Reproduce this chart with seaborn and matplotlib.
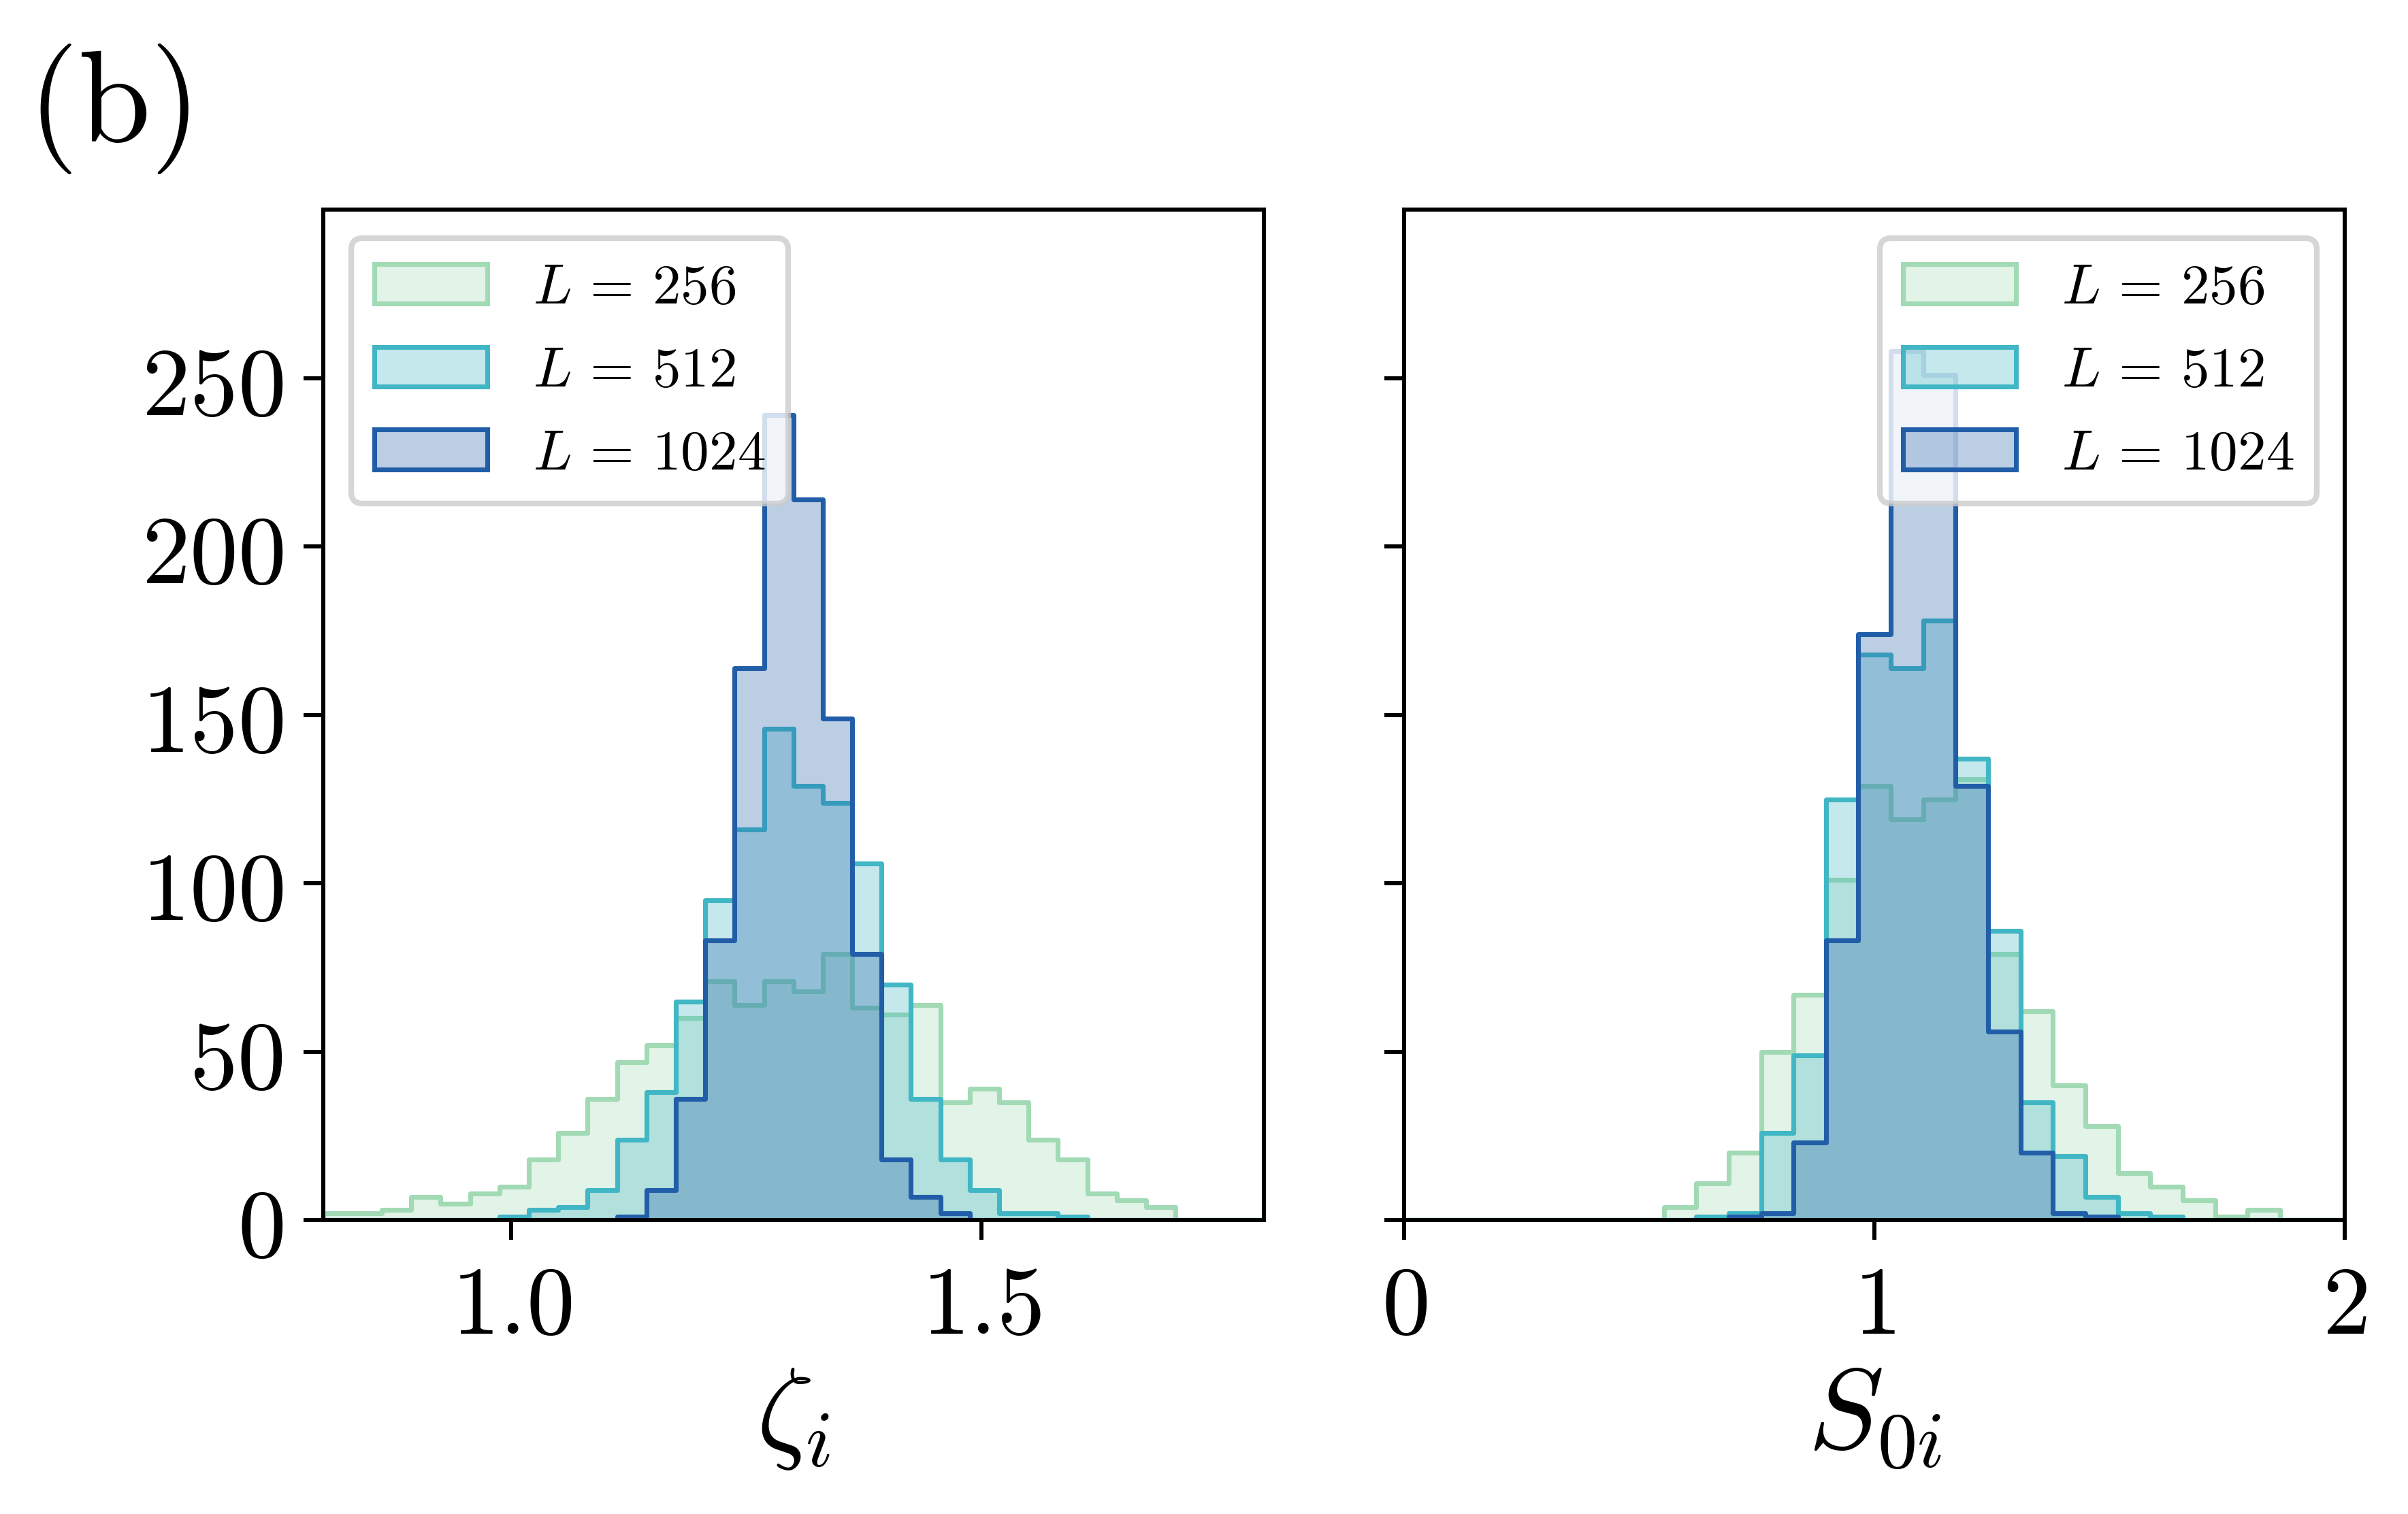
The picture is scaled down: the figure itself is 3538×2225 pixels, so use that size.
import numpy as np
import matplotlib
matplotlib.use("Agg")
import matplotlib.pyplot as plt
import seaborn as sns
from matplotlib.ticker import FuncFormatter

plt.rcParams['mathtext.fontset'] = 'cm'
plt.rcParams['font.family'] = ['DejaVu Serif']

sizes = [256, 512, 1024]
colors = ['#a1dab4', '#41b6c4', '#225ea8']

# zeta_i histograms: 32 bins of width 1/32 between 0.8 and 1.8
zeta_edges = np.linspace(0.8, 1.8, 33)
zeta_256 = [2, 2, 3, 7, 5, 8, 10, 18, 26, 36,
            47, 52, 60, 71, 64, 71, 68, 79, 63, 61,
            64, 35, 39, 35, 24, 18, 8, 6, 4, 0, 0, 0]
zeta_512 = [0, 0, 0, 0, 0, 0, 1, 3, 4, 9,
            24, 38, 65, 95, 116, 146, 129, 124, 106, 70,
            36, 18, 9, 2, 2, 1, 0, 0, 0, 0, 0, 0]
zeta_1024 = [0, 0, 0, 0, 0, 0, 0, 0, 0, 0,
             1, 9, 36, 83, 164, 239, 214, 149, 79, 18,
             7, 2, 0, 0, 0, 0, 0, 0, 0, 0, 0, 0]

# S_0i histograms: 29 bins between 0 and 2
s0_edges = np.linspace(0, 2, 30)
s0_256 = [0, 0, 0, 0, 0, 0, 0, 0,
          4, 11, 20, 50, 67, 101, 129, 119, 125, 131, 79, 62,
          40, 28, 14, 10, 6, 1, 3, 0, 0]
s0_512 = [0, 0, 0, 0, 0, 0, 0, 0, 0,
          1, 2, 26, 49, 125, 168, 164, 178, 137, 86, 35,
          19, 7, 2, 1, 0, 0, 0, 0, 0]
s0_1024 = [0, 0, 0, 0, 0, 0, 0, 0, 0, 0,
           1, 2, 23, 83, 174, 258, 251, 129, 56, 20,
           2, 1, 0, 0, 0, 0, 0, 0, 0]

zeta_xticks = [1.0, 1.5]
s0_xticks = [0, 1, 2]
yticks = [0, 50, 100, 150, 200, 250]

W, H, DPI = 3538, 2225, 600
fig, (ax1, ax2) = plt.subplots(1, 2, sharey=True, figsize=(W / DPI, H / DPI), dpi=DPI)
ax1.set_position([0.13417, 0.19402, 0.39062, 0.66742])
ax2.set_position([0.58318, 0.19402, 0.39062, 0.66742])


def draw_panel(ax, edges, series):
    centers = 0.5 * (edges[:-1] + edges[1:])
    for L, counts, c in zip(sizes, series, colors):
        sns.histplot(x=centers, weights=counts, bins=list(edges), element='step',
                     fill=True, color=c, alpha=0.3, linewidth=0.85,
                     label=rf'$L\,=\,{L}$', ax=ax)
    ax.set_ylabel('')
    for s in ax.spines.values():
        s.set_linewidth(0.72)
        s.set_color('black')
    ax.tick_params(length=3.5, width=0.72, labelsize=17, colors='black')


draw_panel(ax1, zeta_edges, [zeta_256, zeta_512, zeta_1024])
draw_panel(ax2, s0_edges, [s0_256, s0_512, s0_1024])

ax1.set_xlim(0.8, 1.8)
ax2.set_xlim(0, 2)
ax1.set_ylim(0, 300)
ax1.set_yticks(yticks)
ax1.set_xticks(zeta_xticks)
ax2.set_xticks(s0_xticks)
ax1.xaxis.set_major_formatter(FuncFormatter(lambda v, p: f'${v:.1f}$'))
ax2.xaxis.set_major_formatter(FuncFormatter(lambda v, p: f'${v:g}$'))
ax1.yaxis.set_major_formatter(FuncFormatter(lambda v, p: f'${v:g}$'))
ax2.tick_params(labelleft=False)

ax1.set_xlabel(r'$\zeta_i$', fontsize=20, labelpad=1.5)
ax2.set_xlabel(r'$S_{0i}$', fontsize=20, labelpad=1.5)

ax1.legend(loc='upper left', fontsize=10)
ax2.legend(loc='upper right', fontsize=10)

fig.text(0.0450, 0.928, r'$(\mathrm{b})$', fontsize=23, ha='center', va='center')

fig.savefig('out.png', dpi=DPI)
